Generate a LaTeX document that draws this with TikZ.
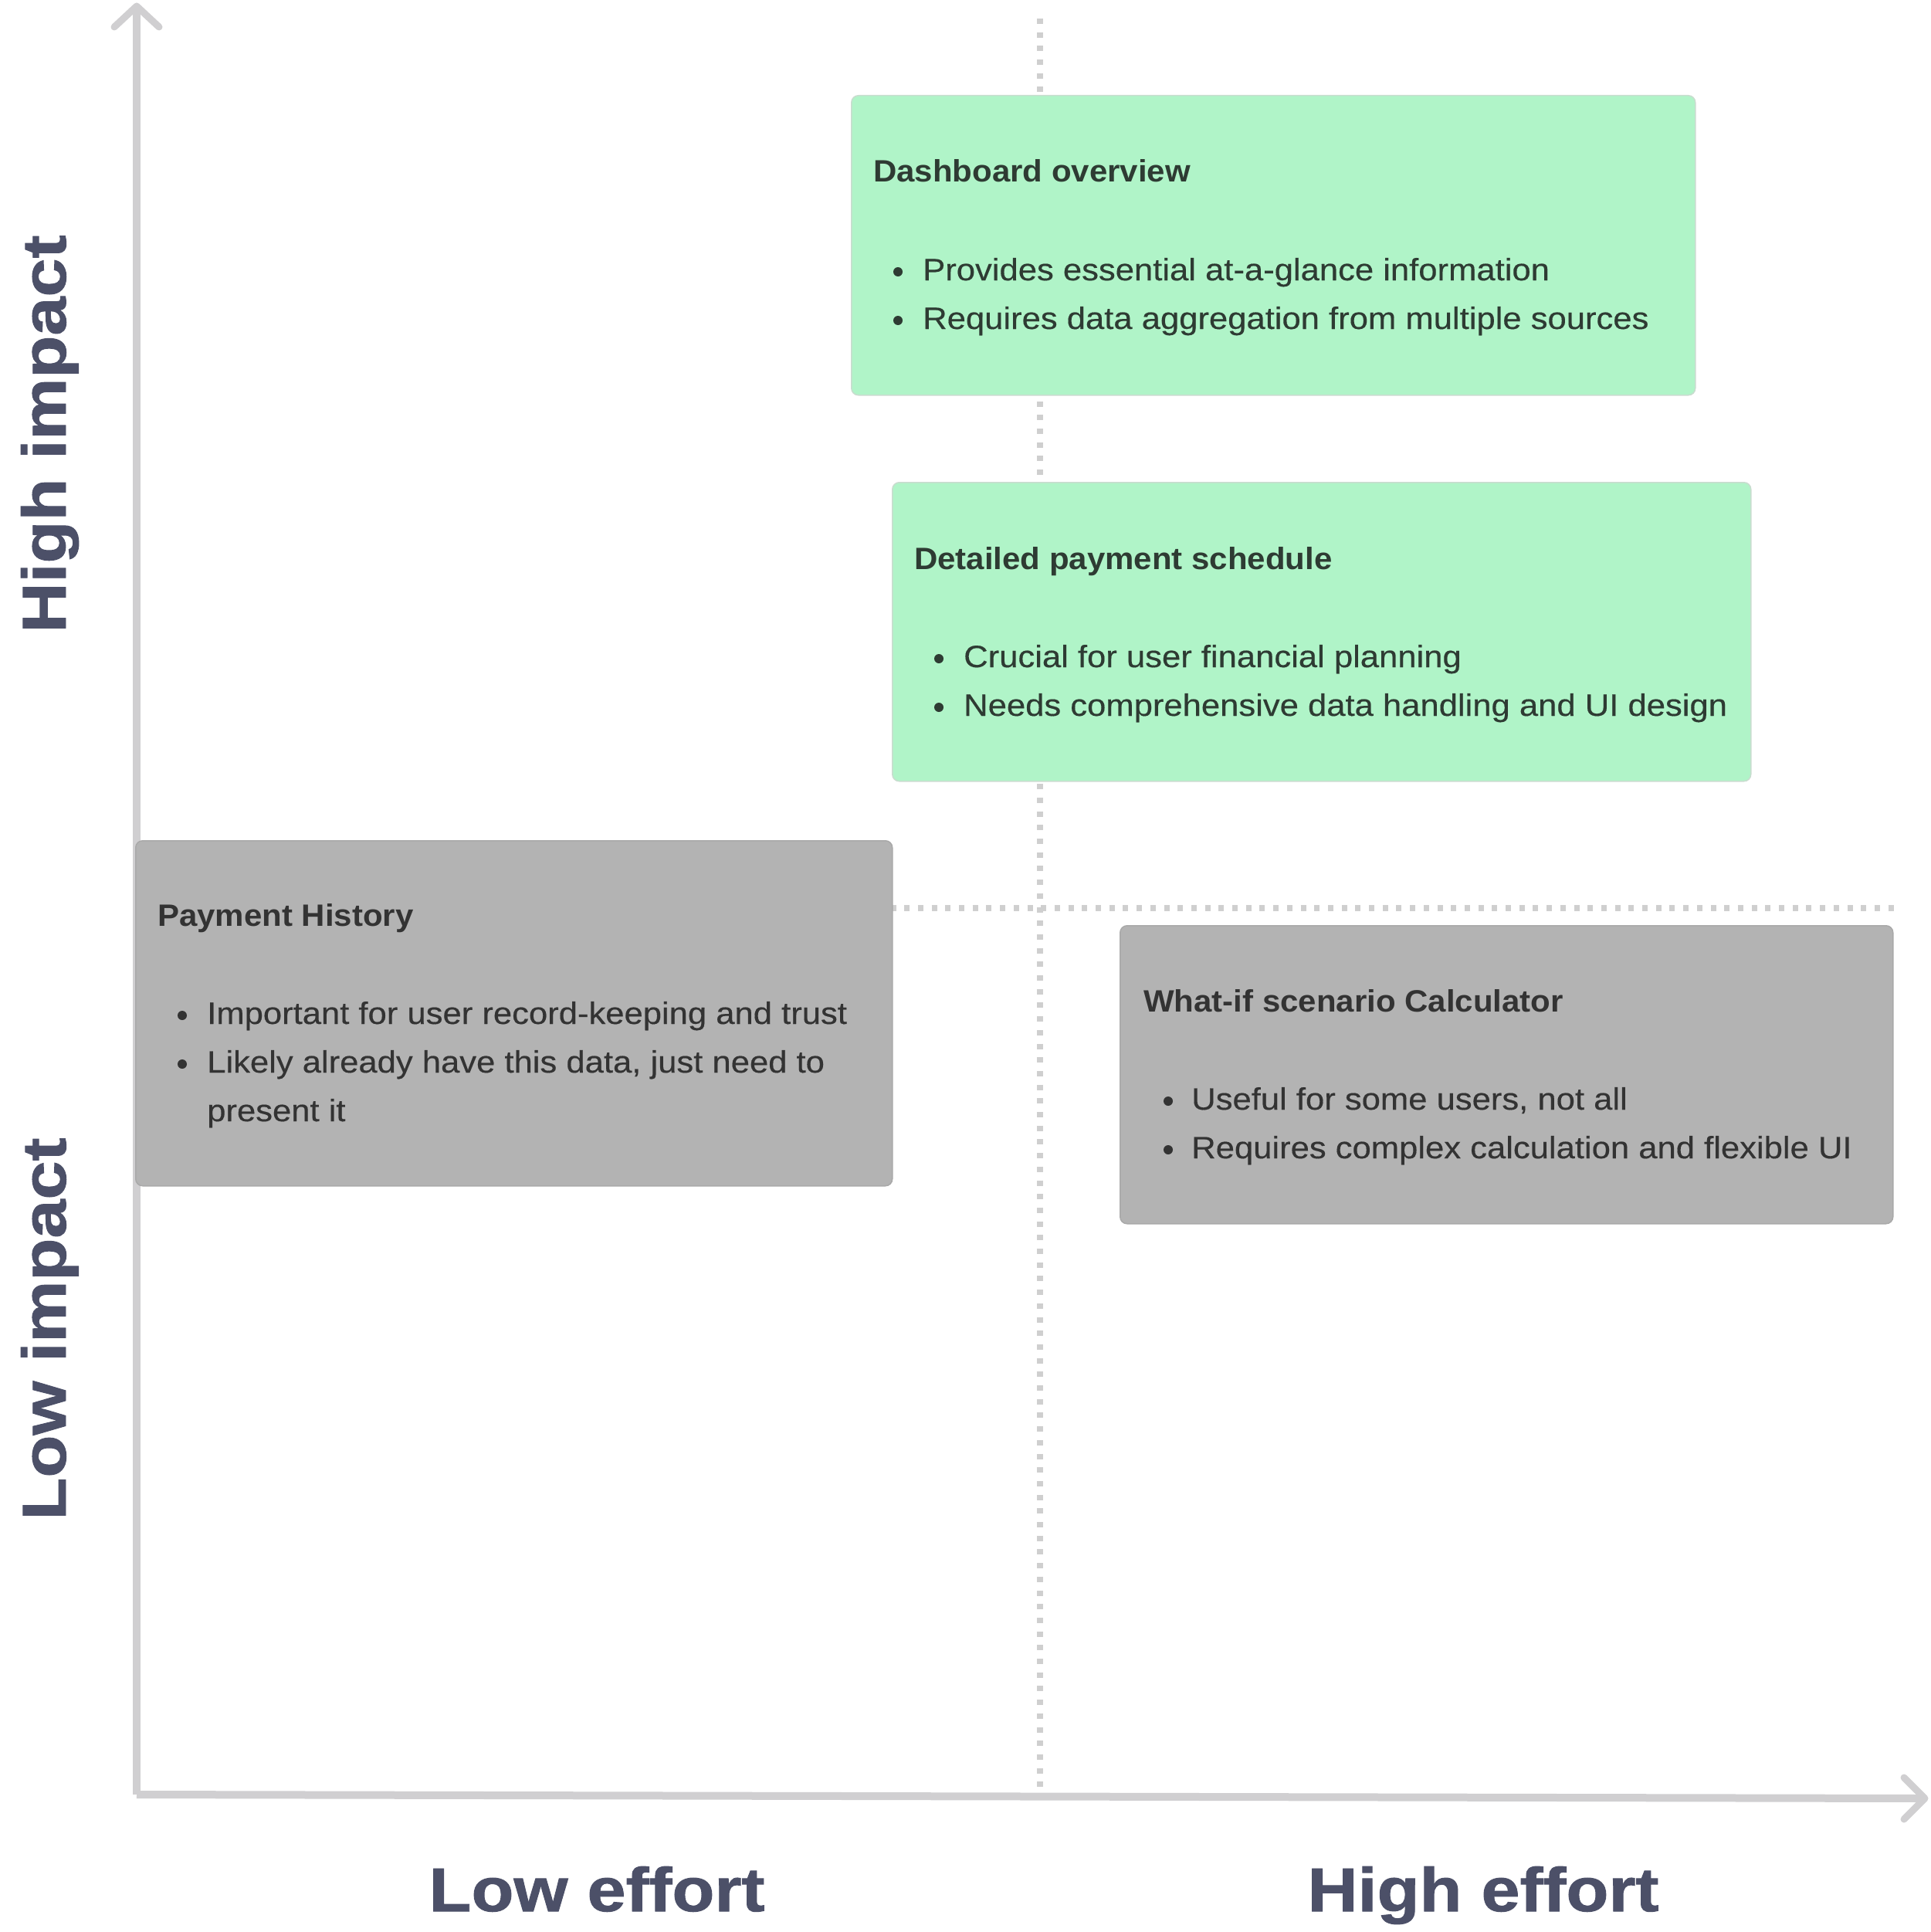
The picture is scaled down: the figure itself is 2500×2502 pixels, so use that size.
\documentclass[tikz,border=0pt]{standalone}
\usepackage{fontspec}
\setmainfont{Liberation Sans}[FakeStretch=1.09, FakeBold=0.35]
\newfontfamily\titlefont{Liberation Sans}[FakeStretch=1.05]
\newfontfamily\axisfont{Liberation Sans Bold}[FakeStretch=1.125, FakeBold=1.2]
\definecolor{axisgray}{HTML}{D0CFD1}
\definecolor{dotgray}{HTML}{CFCFCF}
\definecolor{greenfill}{HTML}{B0F4C8}
\definecolor{greenedge}{HTML}{C9DCCF}
\definecolor{grayfill}{HTML}{B3B3B3}
\definecolor{grayedge}{HTML}{A9A9A9}
\definecolor{greentext}{HTML}{2E3B33}
\definecolor{graytext}{HTML}{333333}
\definecolor{labelcol}{HTML}{4C5068}
\tikzset{
  axisline/.style={draw=axisgray, line width=10pt},
  axishead/.style={draw=axisgray, line width=9pt, line cap=round, line join=round},
  dotline/.style={draw=dotgray, line width=8pt, dash pattern=on 7pt off 10.7pt},
  card/.style={rounded corners=9pt, line width=1.5pt, anchor=north west, inner sep=0pt},
  greencard/.style={card, fill=greenfill, draw=greenedge},
  graycard/.style={card, fill=grayfill, draw=grayedge},
  cardtitle/.style={anchor=base west, inner sep=0pt, font=\titlefont\bfseries\fontsize{40}{48}\selectfont},
  bullettext/.style={anchor=base west, inner sep=0pt, font=\fontsize{40}{48}\selectfont},
  bulletdot/.style={circle, inner sep=0pt, minimum size=12pt},
  axislabel/.style={inner sep=0pt, anchor=base, text=labelcol, font=\axisfont\fontsize{80}{90}\selectfont},
}
\begin{document}
\begin{tikzpicture}[x=1pt, y=-1pt]
\useasboundingbox (0,0) rectangle (2500,2502);
% axes coordinates
\coordinate (origin) at (177,2324);
\coordinate (ytip) at (177,8);
\coordinate (xtip) at (2493,2329);
\coordinate (yarmL) at (148,35);
\coordinate (yarmR) at (206,35);
\coordinate (xarmT) at (2466,2302);
\coordinate (xarmB) at (2466,2356);
% dotted quadrant lines
\coordinate (vtop) at (1347,24);
\coordinate (vbot) at (1347,2320);
\coordinate (hleft) at (180,1176);
\coordinate (hright) at (2455,1176);
\draw[dotline] (vtop) -- (vbot);
\draw[dotline] (hleft) -- (hright);
% axes
\draw[axisline] (origin) -- (ytip);
\draw[axisline] (origin) -- (xtip);
\draw[axishead] (yarmL) -- (ytip) -- (yarmR);
\draw[axishead] (xarmT) -- (xtip) -- (xarmB);
% cards
\node[greencard, minimum width=1093pt, minimum height=388pt] (dash) at (1102,123) {};
\node[greencard, minimum width=1112pt, minimum height=387pt] (sched) at (1155,624) {};
\node[graycard, minimum width=980pt, minimum height=447pt] (hist) at (175,1088) {};
\node[graycard, minimum width=1001pt, minimum height=386pt] (whatif) at (1450,1198) {};
% Dashboard overview
\node[cardtitle, text=greentext] (dashT) at (1131,236) {Dashboard overview};
\node[bulletdot, fill=greentext] (dashD1) at (1163,352) {};
\node[bullettext, text=greentext] (dashB1) at (1195,363) {Provides essential at-a-glance information};
\node[bulletdot, fill=greentext] (dashD2) at (1163,415) {};
\node[bullettext, text=greentext] (dashB2) at (1195,426) {Requires data aggregation from multiple sources};
% Detailed payment schedule
\node[cardtitle, text=greentext] (schedT) at (1184,737) {Detailed payment schedule};
\node[bulletdot, fill=greentext] (schedD1) at (1216,853) {};
\node[bullettext, text=greentext] (schedB1) at (1248,864) {Crucial for user financial planning};
\node[bulletdot, fill=greentext] (schedD2) at (1216,916) {};
\node[bullettext, text=greentext] (schedB2) at (1248,927) {Needs comprehensive data handling and UI design};
% Payment History
\node[cardtitle, text=graytext] (histT) at (204,1199) {Payment History};
\node[bulletdot, fill=graytext] (histD1) at (236,1315) {};
\node[bullettext, text=graytext] (histB1) at (268,1326) {Important for user record-keeping and trust};
\node[bulletdot, fill=graytext] (histD2) at (236,1378) {};
\node[bullettext, text=graytext] (histB2) at (268,1389) {Likely already have this data, just need to};
\node[bullettext, text=graytext] (histB3) at (268,1452) {present it};
% What-if
\node[cardtitle, text=graytext] (whatT) at (1481,1310) {What-if scenario Calculator};
\node[bulletdot, fill=graytext] (whatD1) at (1513,1426) {};
\node[bullettext, text=graytext] (whatB1) at (1543,1437) {Useful for some users, not all};
\node[bulletdot, fill=graytext] (whatD2) at (1513,1489) {};
\node[bullettext, text=graytext] (whatB2) at (1543,1500) {Requires complex calculation and flexible UI};
% axis labels
\node[axislabel] (loweff) at (773,2475) {Low effort};
\node[axislabel] (higheff) at (1921,2475) {High effort};
\node[axislabel, rotate=90] (highimp) at (85,562) {High impact};
\node[axislabel, rotate=90] (lowimp) at (85,1721) {Low impact};
\end{tikzpicture}
\end{document}
